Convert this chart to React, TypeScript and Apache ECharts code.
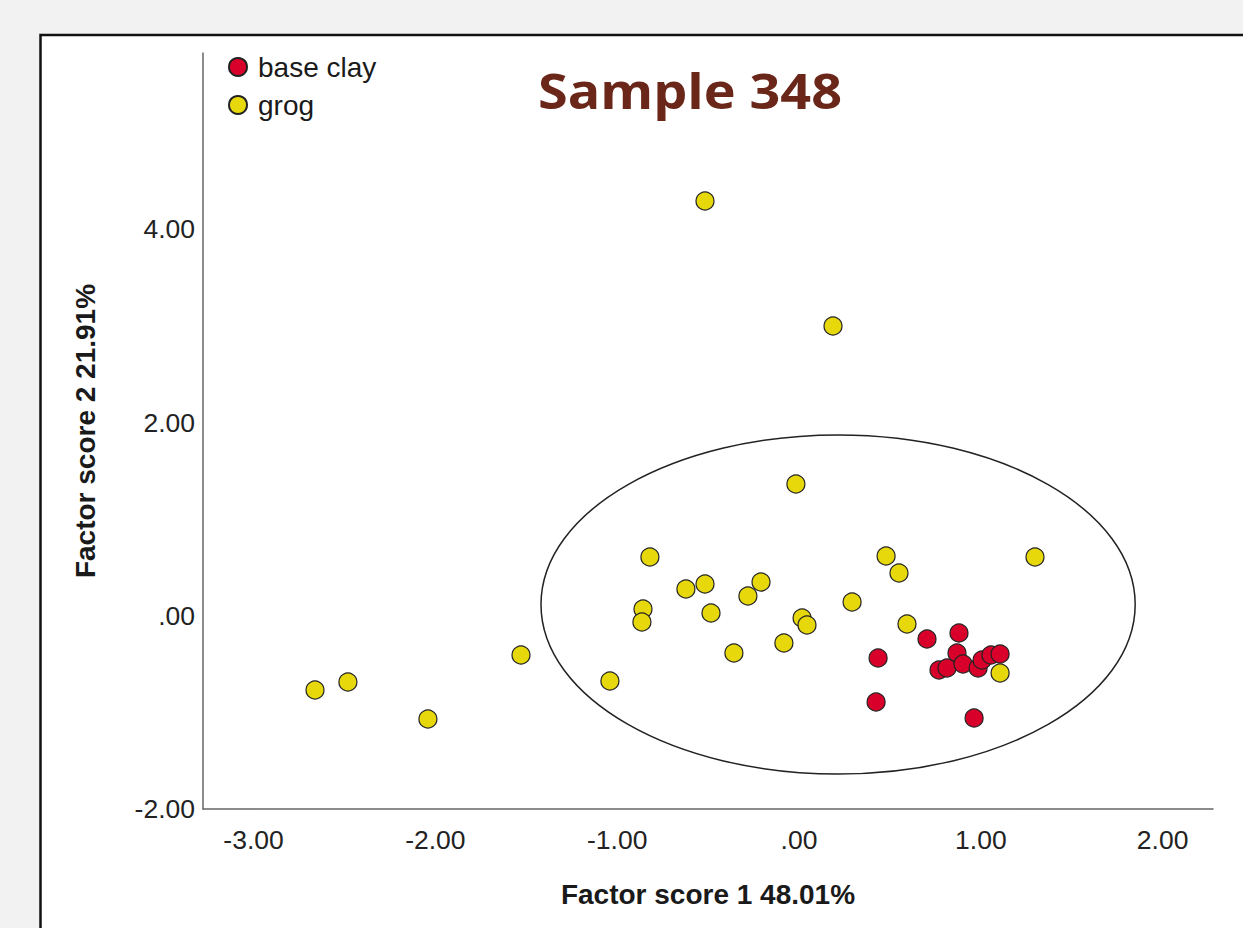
import React, { useEffect, useRef } from "react";
import * as echarts from "echarts";

const titleText = "Sample 348";
const xName = "Factor score 1 48.01%";
const yName = "Factor score 2 21.91%";
const seriesNames = ["base clay", "grog"];

const xTicks = [-3, -2, -1, 0, 1, 2];
const yTicks = [-2, 0, 2, 4];

const baseClayX = [0.435, 0.424, 0.704, 0.880, 0.869, 0.770, 0.814, 0.902, 0.985, 1.007, 1.056, 1.106, 0.963];
const baseClayY = [-0.437, -0.892, -0.240, -0.178, -0.385, -0.561, -0.540, -0.499, -0.540, -0.458, -0.406, -0.395, -1.058];

const grogX = [-0.517, 0.187, -0.017, -0.820, -0.622, -0.517, -0.209, -0.281, -0.858, -0.864, -0.484, 0.017, 0.044, 0.292, 0.479, 0.550, 0.594, -0.083, -0.358, -1.040, -1.529, -2.041, -2.481, -2.662, 1.298, 1.106];
const grogY = [4.294, 3.000, 1.364, 0.609, 0.277, 0.329, 0.350, 0.205, 0.070, -0.064, 0.029, -0.023, -0.095, 0.143, 0.619, 0.443, -0.085, -0.282, -0.385, -0.675, -0.406, -1.068, -0.685, -0.768, 0.609, -0.592];

// confidence ellipse: centre x, centre y, radius x, radius y (data units)
const ellipseParams = [0.215, 0.117, 1.634, 1.755];

const fmt = (v: number) => (v === 0 ? ".00" : v.toFixed(2));

export default function App() {
  const ref = useRef<HTMLDivElement>(null);
  useEffect(() => {
    if (!ref.current) return;
    const chart = echarts.init(ref.current, null, { renderer: "svg" });
    const tickFont = { fontFamily: "Liberation Sans, Arial, sans-serif", fontSize: 26.5, color: "#222" };
    const nameFont = {
      fontFamily: "Liberation Sans, Arial, sans-serif",
      fontSize: 28,
      fontWeight: "bold",
      color: "#1a1a1a",
    };
    chart.setOption({
      animation: false,
      backgroundColor: "#f2f2f2",
      graphic: [
        {
          type: "rect",
          z: -10,
          silent: true,
          shape: { x: 40.5, y: 35, width: 1300, height: 1000 },
          style: { fill: "#ffffff", stroke: "#111", lineWidth: 2.5 },
        },
        {
          type: "text",
          x: 690,
          y: 90,
          scaleX: 1.1,
          style: {
            text: titleText,
            fill: "#6a2619",
            font: "bold 49px 'Open Sans', Lato, sans-serif",
            align: "center",
            verticalAlign: "middle",
          },
        },
      ],
      legend: {
        data: seriesNames,
        orient: "vertical",
        left: 228,
        top: 53,
        padding: 0,
        itemGap: 10,
        itemWidth: 18,
        itemHeight: 18,
        icon: "circle",
        textStyle: {
          fontFamily: "Liberation Sans, Arial, sans-serif",
          fontSize: 28,
          lineHeight: 27,
          color: "#1a1a1a",
          padding: [0, 0, 0, 6],
        },
      },
      grid: { left: 203, top: 53, width: 1010, height: 756 },
      xAxis: {
        type: "value",
        min: -3.278,
        max: 2.277,
        name: xName,
        nameLocation: "middle",
        nameGap: 71,
        nameTextStyle: nameFont,
        axisLine: { show: true, onZero: false, lineStyle: { color: "#666", width: 1.5 } },
        axisTick: { show: false },
        splitLine: { show: false },
        axisLabel: { ...tickFont, margin: 17, customValues: xTicks, formatter: fmt },
      },
      yAxis: {
        type: "value",
        min: -2,
        max: 5.826,
        name: yName,
        nameLocation: "middle",
        nameGap: 104,
        nameTextStyle: nameFont,
        axisLine: { show: true, onZero: false, lineStyle: { color: "#666", width: 1.5 } },
        axisTick: { show: false },
        splitLine: { show: false },
        axisLabel: { ...tickFont, margin: 8, customValues: yTicks, formatter: fmt },
      },
      series: [
        {
          type: "custom",
          name: "ellipse",
          silent: true,
          z: 1,
          data: [ellipseParams],
          encode: { x: 0, y: 1 },
          renderItem: (params: any, api: any) => {
            const c = api.coord([api.value(0), api.value(1)]);
            const s = api.size([api.value(2), api.value(3)]);
            return {
              type: "ellipse",
              shape: { cx: c[0], cy: c[1], rx: s[0], ry: s[1] },
              style: { fill: "none", stroke: "#222", lineWidth: 1.5 },
            };
          },
        },
        {
          type: "scatter",
          name: seriesNames[0],
          z: 3,
          symbolSize: 18,
          itemStyle: { color: "#d8002a", borderColor: "#222", borderWidth: 1.2, opacity: 1 },
          data: baseClayX.map((x, i) => [x, baseClayY[i]]),
        },
        {
          type: "scatter",
          name: seriesNames[1],
          z: 4,
          symbolSize: 18,
          itemStyle: { color: "#e6d80a", borderColor: "#222", borderWidth: 1.2, opacity: 1 },
          data: grogX.map((x, i) => [x, grogY[i]]),
        },
      ],
    });
    return () => chart.dispose();
  }, []);
  return (
    <div
      ref={ref}
      style={{ position: "absolute", left: 0, top: 0, width: 1243, height: 928 }}
    />
  );
}
